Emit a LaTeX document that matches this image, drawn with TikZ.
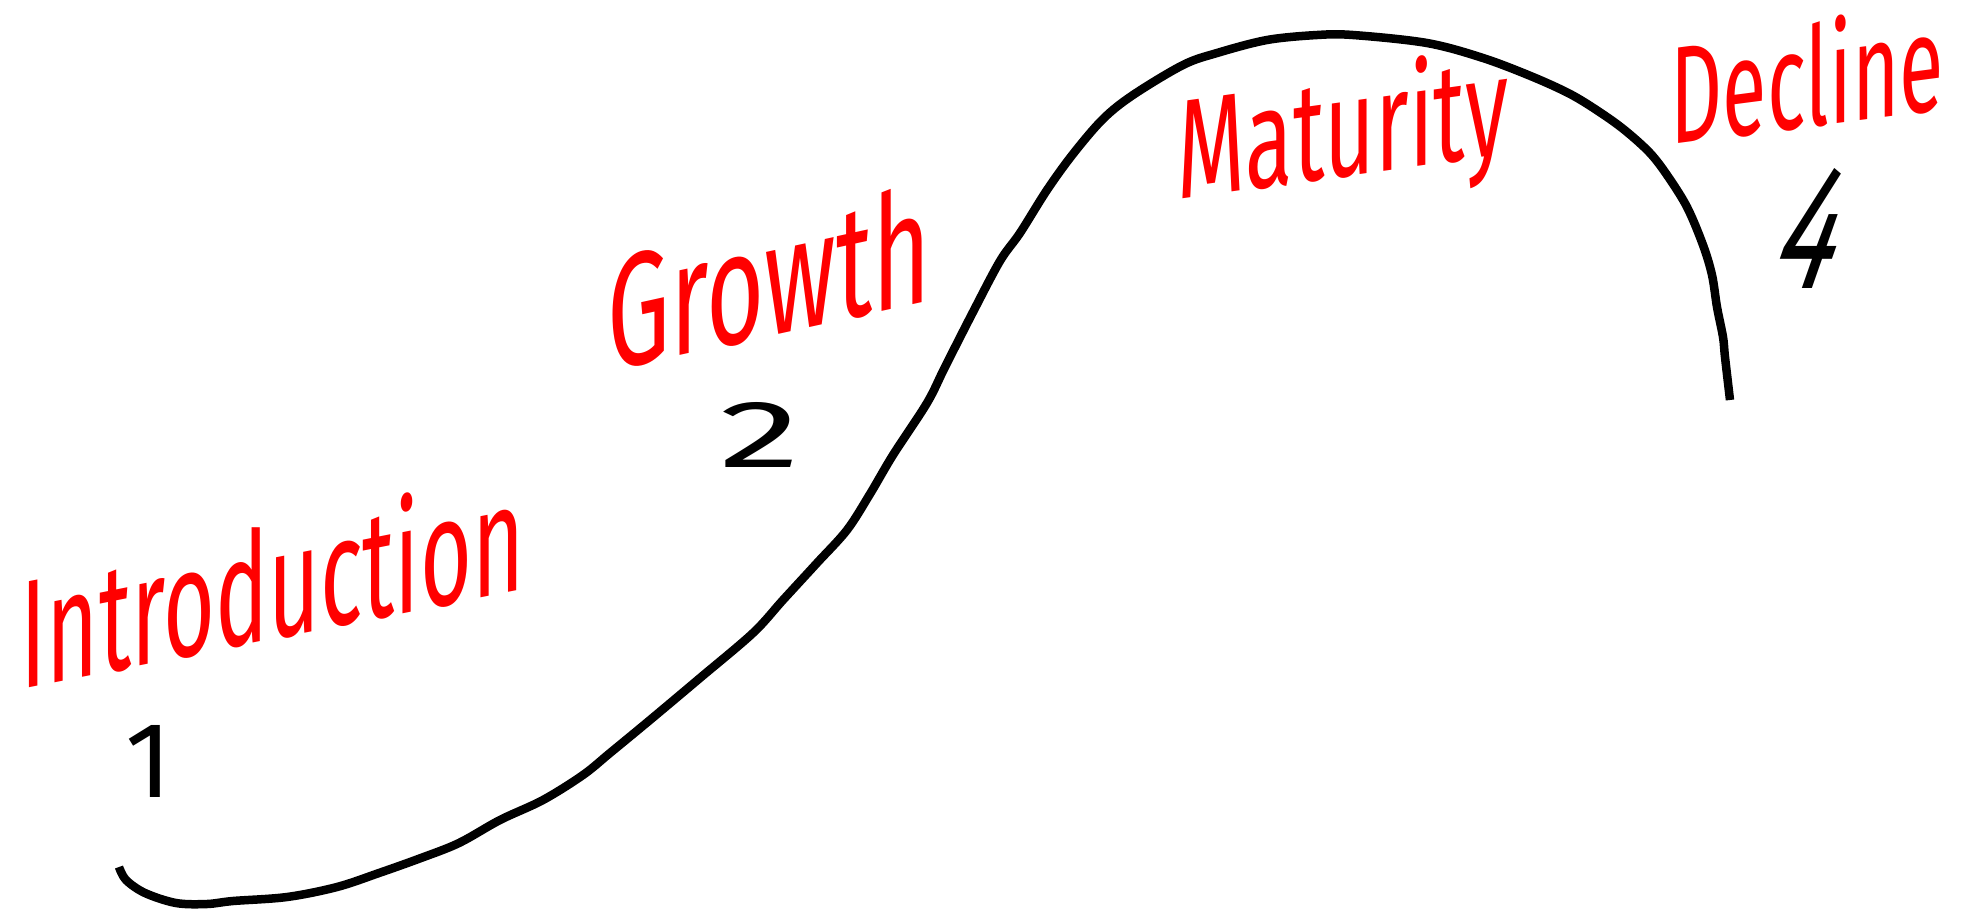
\documentclass[tikz,border=0pt]{standalone}
\usepackage{fontspec}
\newfontfamily\hand{Fira Sans}
\begin{document}
\begin{tikzpicture}[x=0.01cm,y=-0.01cm,
  curve/.style={line width=0.085cm, line join=round},
  word/.style={text=red, inner sep=0pt, anchor=base west, font=\hand},
  num/.style={text=black, inner sep=0pt, anchor=base west, font=\hand}]
\useasboundingbox (0,0) rectangle (1968,908);
\draw[curve] plot[smooth, tension=0.55] coordinates {
 (119,867) (126,880) (145,893) (176,903) (207,904) (233,901) (287,897)
 (337,887) (379,873) (421,858) (459,843) (500,820) (543,800) (583,775)
 (610,753) (650,720) (700,678) (753,633) (783,600) (817,563) (847,530)
 (870,494) (893,455) (927,403) (945,367) (973,312) (1000,261) (1020,233)
 (1047,190) (1073,154) (1103,119) (1133,95) (1183,65) (1217,53) (1267,40)
 (1317,35) (1353,35) (1427,43) (1483,58) (1533,77) (1572,95) (1604,115)
 (1627,132) (1650,153) (1667,175) (1687,207) (1703,245) (1712,275)
 (1717,307) (1723,337) (1725,357) (1730,400)};
\node[word, yslant=0.2]  (intro)    at (20,690)   {\resizebox{5.03cm}{1.2cm}{Introduction}};
\node[word, yslant=0.22] (growth)   at (607,372)  {\resizebox{3.23cm}{1.2cm}{Growth}};
\node[word, yslant=0.14] (maturity) at (1177,200) {\resizebox{3.3cm}{1.1cm}{Maturity}};
\node[word, yslant=0.13] (decline)  at (1670,145) {\resizebox{2.73cm}{1.08cm}{Decline}};
\node[num] (one)  at (125,797) {\resizebox{!}{0.72cm}{1}};
\node[num] (two)  at (719,467) {\resizebox{0.81cm}{0.65cm}{2}};
\node[num, xslant=0.35] (four) at (1765,288) {\resizebox{0.6cm}{1.2cm}{4}};
\end{tikzpicture}
\end{document}
